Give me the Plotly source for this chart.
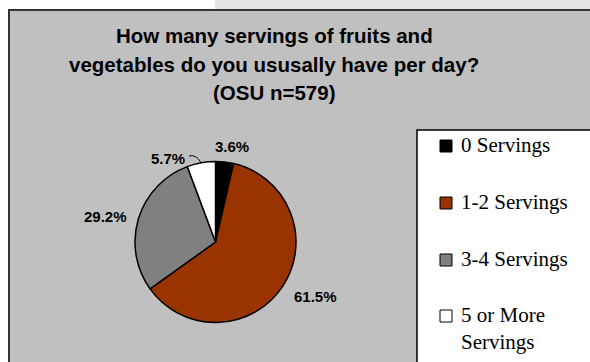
import math
import plotly.graph_objects as go

# ---- data ----
categories = ["0 Servings", "1-2 Servings", "3-4 Servings", "5 or More Servings"]
legend_labels = ["0 Servings", "1-2 Servings", "3-4 Servings", "5 or More<br>Servings"]
values = [3.6, 61.5, 29.2, 5.7]
slice_labels = ["3.6%", "61.5%", "29.2%", "5.7%"]
colors = ["#000000", "#993300", "#808080", "#ffffff"]
title_lines = ["How many servings of fruits and",
               "vegetables do you ususally have per day?",
               "(OSU n=579)"]

W, H = 590, 362
def px(x): return x / W
def py(y): return 1 - y / H

cx, cy, r = 215.5, 242, 80.5

fig = go.Figure(go.Pie(
    labels=categories, values=values, sort=False, direction="clockwise", rotation=0,
    marker=dict(colors=colors, line=dict(color="#000000", width=1.5)),
    textinfo="none", hoverinfo="label+percent", showlegend=False,
    domain=dict(x=[px(cx - r), px(cx + r)], y=[py(cy + r), py(cy - r)]),
))

shapes = [
    dict(type="rect", xref="paper", yref="paper", x0=px(215), x1=px(600), y0=py(0), y1=py(9),
         fillcolor="#e4e4e4", line=dict(width=0), layer="below"),
    dict(type="rect", xref="paper", yref="paper", x0=px(9), x1=px(600), y0=py(10), y1=py(380),
         fillcolor="#c0c0c0", line=dict(color="#333333", width=2), layer="below"),
    dict(type="rect", xref="paper", yref="paper", x0=px(417), x1=px(600), y0=py(130), y1=py(380),
         fillcolor="#ffffff", line=dict(color="#000000", width=1.5), layer="below"),
]

annotations = []
title_y = [35, 64, 93]
for t, y in zip(title_lines, title_y):
    annotations.append(dict(text="<b>" + t + "</b>", x=px(274), y=py(y), xref="paper", yref="paper",
                            xanchor="center", yanchor="middle", showarrow=False,
                            font=dict(family="Liberation Sans, Arial", size=20.5, color="#000000")))

# slice labels
label_pos = [(232, 146), (315, 296), (105, 216), (168, 158)]
for lab, (x, y) in zip(slice_labels, label_pos):
    annotations.append(dict(text="<b>" + lab + "</b>", x=px(x), y=py(y), xref="paper", yref="paper",
                            xanchor="center", yanchor="middle", showarrow=False,
                            font=dict(family="Liberation Sans, Arial", size=15, color="#000000")))

# leader line for the last slice, from its mid-angle on the rim
cum = sum(values[:-1])
mid = (cum + values[-1] / 2) / sum(values) * 2 * math.pi
ex, ey = cx + r * math.sin(mid), cy - r * math.cos(mid)
shapes.append(dict(type="path", xref="paper", yref="paper",
                   path=f"M {px(189)} {py(156)} Q {px(196)} {py(154)} {px(ex)} {py(ey)}",
                   line=dict(color="#000000", width=1)))

# legend
leg_y = [146, 203, 260, 316]
for lab, col, y in zip(legend_labels, colors, leg_y):
    shapes.append(dict(type="rect", xref="paper", yref="paper", x0=px(440), x1=px(452),
                       y0=py(y - 6), y1=py(y + 6), fillcolor=col, line=dict(color="#000000", width=1)))
    annotations.append(dict(text=lab, x=px(459), y=py(y - 15), xref="paper", yref="paper",
                            xanchor="left", yanchor="top", align="left", showarrow=False,
                            font=dict(family="Liberation Serif, Times New Roman", size=21, color="#000000")))

fig.update_layout(width=W, height=H, margin=dict(l=0, r=0, t=0, b=0),
                  paper_bgcolor="#ffffff", plot_bgcolor="#ffffff",
                  shapes=shapes, annotations=annotations, showlegend=False)
fig.write_html("out.html", config={"displayModeBar": False},
               post_script="document.body.style.margin='0';document.body.style.overflow='hidden';")
